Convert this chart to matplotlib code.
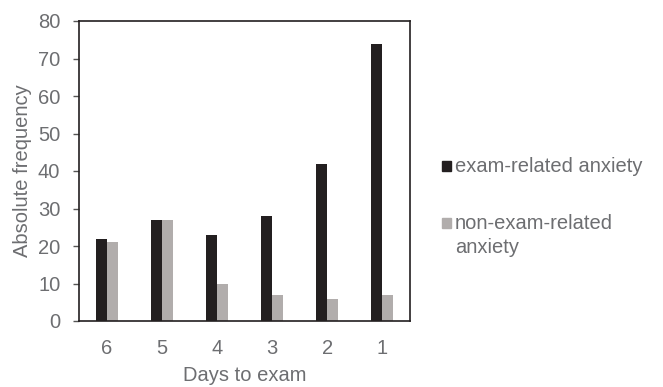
import matplotlib.pyplot as plt
import numpy as np
from matplotlib.patches import Rectangle

plt.rcParams['font.family'] = ['Liberation Sans', 'DejaVu Sans']

days = ['6', '5', '4', '3', '2', '1']
exam_related = [22, 27, 23, 28, 42, 74]
non_exam_related = [21, 27, 10, 7, 6, 7]
series_names = ['exam-related anxiety', 'non-exam-related\nanxiety']
series_colors = ['#231f20', '#b1adac']

text_col = '#6d6e71'
fs = 14.5
W, H = 663, 387
fig = plt.figure(figsize=(W / 100, H / 100), dpi=100)
ax = fig.add_axes([79 / W, 1 - 321 / H, 331 / W, 300 / H])

x = np.arange(len(days))
w = 0.2
ax.bar(x - w / 2, exam_related, w, color=series_colors[0])
ax.bar(x + w / 2, non_exam_related, w, color=series_colors[1])

ax.set_xlim(-0.5, len(days) - 0.5)
ax.set_ylim(0, 80)
ax.set_yticks(range(0, 81, 10))
ax.set_xticks(x)
ax.set_xticklabels(days)
ax.tick_params(axis='x', length=0, pad=13, labelsize=fs, labelcolor=text_col)
ax.tick_params(axis='y', length=4.5, width=1, color='#555555', pad=9,
               labelsize=fs, labelcolor=text_col)
for s in ax.spines.values():
    s.set_color('#231f20')
    s.set_linewidth(1.2)

ax.set_xlabel('Days to exam', fontsize=fs, color=text_col, labelpad=5.5)
ax.set_ylabel('Absolute frequency', fontsize=fs, color=text_col, labelpad=4)

# legend drawn by hand so the square lines up with the first text line
leg_y = [166, 223]
for name, col, yc in zip(series_names, series_colors, leg_y):
    fig.patches.append(Rectangle((442 / W, 1 - (yc + 5) / H), 9 / W, 10 / H,
                                 transform=fig.transFigure, color=col))
    fig.text(455 / W, 1 - (yc - 9) / H, name, fontsize=fs, color=text_col,
             va='top', ha='left', linespacing=1.35)

fig.savefig('out.png', dpi=100)
